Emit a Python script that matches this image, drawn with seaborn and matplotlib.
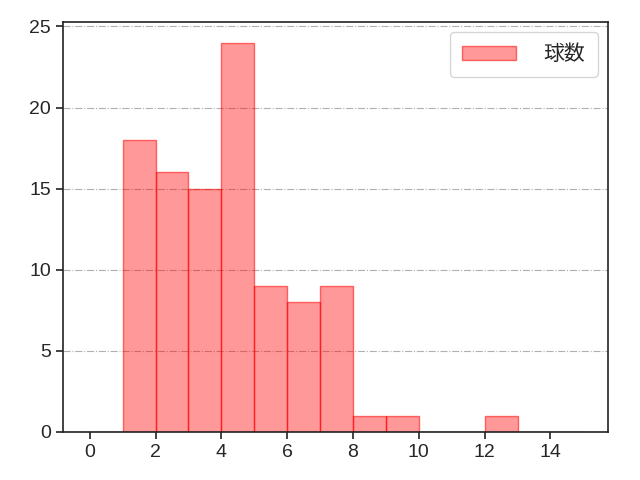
import numpy as np
import pandas as pd
import matplotlib
matplotlib.use("Agg")
import matplotlib.pyplot as plt
import seaborn as sns

sns.set_style("ticks")
plt.rcParams['font.family'] = ['Liberation Sans', 'Noto Sans CJK JP', 'DejaVu Sans']

# pitches per at-bat (bin start) and how many times
pitch_counts = [1, 2, 3, 4, 5, 6, 7, 8, 9, 12]
frequency = [18, 16, 15, 24, 9, 8, 9, 1, 1, 1]

df = pd.DataFrame({"球数": pitch_counts, "n": frequency})

fig, ax = plt.subplots(figsize=(6.4, 4.8), dpi=100)
sns.histplot(data=df, x="球数", weights="n", binwidth=1, binrange=(0, 15),
             color="#ff0000", alpha=0.4, linewidth=1.0,
             label="球数", ax=ax)
for p in ax.patches:
    p.set_alpha(None)
    p.set_facecolor((1, 0, 0, 0.4))
    p.set_edgecolor((1, 0, 0, 0.55))

ax.set_xlim(-0.82, 15.75)
ax.set_ylim(0, 25.3)
ax.set_xticks([0, 2, 4, 6, 8, 10, 12, 14])
ax.set_yticks([0, 5, 10, 15, 20, 25])
ax.set_xlabel("")
ax.set_ylabel("")
ax.tick_params(labelsize=14, length=5, width=1.2, color="#222222")
ax.grid(axis="y", linestyle="-.", color="#b0b0b0", linewidth=0.8)
ax.set_axisbelow(True)
for s in ax.spines.values():
    s.set_linewidth(1.2)
    s.set_color("#222222")
ax.legend(loc="upper right", fontsize=15, borderpad=0.6, handlelength=2.6,
          handletextpad=1.3)

plt.subplots_adjust(left=0.098, right=0.95, top=0.955, bottom=0.1)
plt.savefig("out.png")
